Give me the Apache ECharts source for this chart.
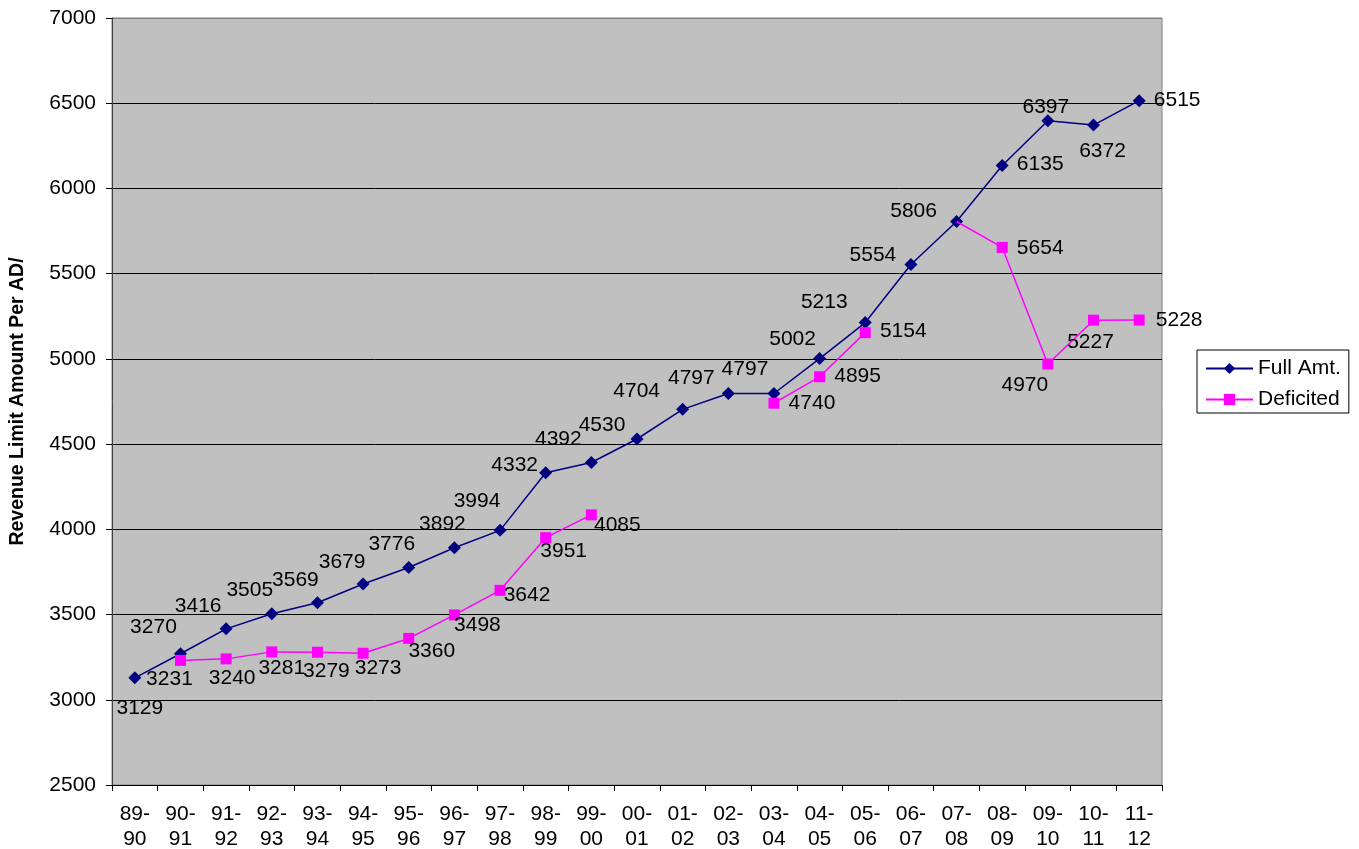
<!DOCTYPE html>
<html>
<head>
<meta charset="utf-8">
<script src="https://cdn.jsdelivr.net/npm/echarts@6/dist/echarts.min.js"></script>
<style>
html,body{margin:0;padding:0;background:#fff;}
#chart{width:1359px;height:849px;}
</style>
</head>
<body>
<div id="chart"></div>
<script>
// ---- data ----
var categories = ['89-\n90','90-\n91','91-\n92','92-\n93','93-\n94','94-\n95','95-\n96','96-\n97','97-\n98','98-\n99','99-\n00','00-\n01','01-\n02','02-\n03','03-\n04','04-\n05','05-\n06','06-\n07','07-\n08','08-\n09','09-\n10','10-\n11','11-\n12'];
var fullAmt = [3129,3270,3416,3505,3569,3679,3776,3892,3994,4332,4392,4530,4704,4797,4797,5002,5213,5554,5806,6135,6397,6372,6515];
var deficited = [null,3231,3240,3281,3279,3273,3360,3498,3642,3951,4085,null,null,null,4740,4895,5154,null,5806,5654,4970,5227,5228];
var yTicks = {min:2500, max:7000, interval:500};

// ---- layout of value labels (offsets from point, px) ----
var fullLabelOffsets = [[5,30],[-27,-27],[-28,-23],[-22,-24],[-22,-23],[-21,-22],[-17,-23],[-12,-24],[-23,-29],[-31,-8],[-33,-23],[-35,-14],[-46,-18],[-37,-15],[-29,-24],[-27,-19],[-41,-20],[-38,-9],[-43,-10],[38,-1],[-2,-14],[9,26],[38,0]];
var defLabelOffsets = [null,[-11,19],[6,19],[10,16],[9,19],[15,15],[23,13],[23,10],[27,5],[18,14],[26,10],null,null,null,[38,0],[38,-1],[38,-1],null,null,[38,1],[-23,21],[-3,22],[40,0]];
var defHiddenIdx = [18];

var FONT = '"Liberation Sans", Arial, sans-serif';
var FS = 21;

function buildData(vals, offs, hidden){
  return vals.map(function(v,i){
    if (v === null) return '-';
    var item = {value: v};
    if (hidden && hidden.indexOf(i) >= 0) {
      item.symbol = 'none';
      item.label = {show:false};
    } else if (offs[i]) {
      item.label = {offset: offs[i]};
    }
    return item;
  });
}

var splitColors = [];
for (var t = yTicks.min; t <= yTicks.max; t += yTicks.interval) splitColors.push(t === yTicks.max ? '#808080' : '#000000');

var chart = echarts.init(document.getElementById('chart'), null, {renderer:'canvas'});
chart.setOption({
  animation:false,
  backgroundColor:'#ffffff',
  textStyle:{fontFamily:FONT},
  grid:{left:112, right:197, top:18, bottom:64, containLabel:false, outerBoundsMode:'none', show:true, backgroundColor:'#C0C0C0', borderColor:'#808080', borderWidth:1},
  legend:{
    orient:'vertical', left:1197, top:350,
    padding:[8,8,3,8], itemGap:10,
    itemWidth:47, itemHeight:14,
    backgroundColor:'#ffffff', borderColor:'#000000', borderWidth:1, borderRadius:0,
    textStyle:{fontFamily:FONT, fontSize:FS, color:'#000', lineHeight:21},
    data:['Full Amt.','Deficited']
  },
  xAxis:{
    type:'category', data:categories, boundaryGap:true,
    axisLine:{show:true, lineStyle:{color:'#000', width:1}},
    axisTick:{show:true, length:6, alignWithLabel:false, lineStyle:{color:'#000'}},
    axisLabel:{color:'#000', fontSize:FS, fontFamily:FONT, lineHeight:25, margin:17, interval:0},
    splitLine:{show:false}
  },
  yAxis:{
    type:'value', min:yTicks.min, max:yTicks.max, interval:yTicks.interval,
    name:'Revenue Limit Amount Per AD/', nameLocation:'middle', nameGap:84, nameRotate:90,
    nameTextStyle:{fontFamily:FONT, fontSize:19.5, fontWeight:'bold', color:'#000'},
    axisLine:{show:true, lineStyle:{color:'#404040', width:1}},
    axisTick:{show:true, length:6, lineStyle:{color:'#000'}},
    axisLabel:{color:'#000', fontSize:FS, fontFamily:FONT, margin:16, formatter:function(v){return String(v);}},
    splitLine:{show:true, lineStyle:{color:splitColors, width:1}}
  },
  series:[
    {
      name:'Full Amt.', type:'line', data:buildData(fullAmt, fullLabelOffsets),
      symbol:'diamond', symbolSize:13,
      lineStyle:{color:'#000080', width:1.5},
      itemStyle:{color:'#000080'},
      label:{show:true, position:'inside', color:'#000', fontSize:FS, fontFamily:FONT},
      connectNulls:false, z:2
    },
    {
      name:'Deficited', type:'line', data:buildData(deficited, defLabelOffsets, defHiddenIdx),
      symbol:'rect', symbolSize:11,
      lineStyle:{color:'#FF00FF', width:1.5},
      itemStyle:{color:'#FF00FF'},
      label:{show:true, position:'inside', color:'#000', fontSize:FS, fontFamily:FONT},
      connectNulls:false, z:3
    }
  ]
});
</script>
</body>
</html>
